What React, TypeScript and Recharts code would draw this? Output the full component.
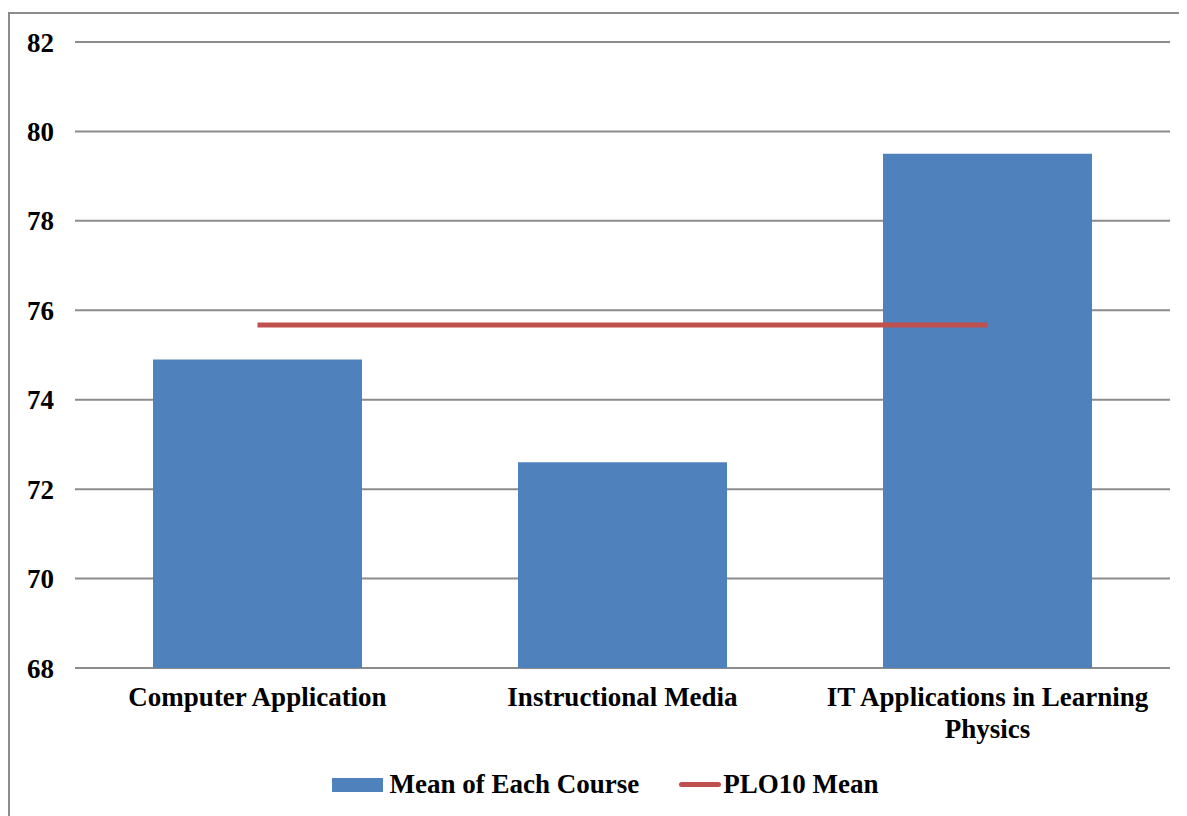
import { ComposedChart, Bar, Line, XAxis, YAxis, CartesianGrid, Legend } from 'recharts';

const COURSES = ['Computer Application', 'Instructional Media', 'IT Applications in Learning Physics'];
const COURSE_MEANS = [74.9, 72.6, 79.5];
const PLO10_MEAN = [75.67, 75.67, 75.67];
const Y_TICKS = [68, 70, 72, 74, 76, 78, 80, 82];

const BLUE = '#4F81BD';
const RED = '#C0504D';
const FONT = '"Liberation Serif", "Times New Roman", serif';
const FS = 27;

const data = COURSES.map((name, i) => ({ name, mean: COURSE_MEANS[i], plo: PLO10_MEAN[i] }));

// greedy word wrap, the category band is too narrow for the long title
function wrap(label: string, maxChars = 28) {
  const lines: string[] = [];
  let cur = '';
  for (const w of label.split(' ')) {
    const next = cur ? cur + ' ' + w : w;
    if (next.length > maxChars && cur) {
      lines.push(cur);
      cur = w;
    } else cur = next;
  }
  if (cur) lines.push(cur);
  return lines;
}

function CourseTick(props: any) {
  const { x, y, payload } = props;
  const lines = wrap(payload.value);
  return (
    <text x={x} y={y} textAnchor="middle" fontFamily={FONT} fontSize={FS} fontWeight="bold" fill="#000">
      {lines.map((l, i) => (
        <tspan key={i} x={x} dy={i === 0 ? 20 : 32}>{l}</tspan>
      ))}
    </text>
  );
}

function LegendBox() {
  const label = { fontFamily: FONT, fontSize: FS, fontWeight: 'bold', color: '#000' } as const;
  return (
    <div style={{ display: 'flex', justifyContent: 'center', alignItems: 'center', paddingLeft: 32, paddingTop: 1 }}>
      <span style={{ display: 'inline-block', width: 51, height: 14, background: BLUE, marginRight: 7 }} />
      <span style={label}>Mean of Each Course</span>
      <span style={{ display: 'inline-block', width: 42, height: 5, borderRadius: 3, background: RED, marginLeft: 40, marginRight: 2 }} />
      <span style={label}>PLO10 Mean</span>
    </div>
  );
}

export default function App() {
  return (
    <div style={{ position: 'relative', width: 1179, height: 808, overflow: 'hidden' }}>
      <div style={{ position: 'absolute', left: 0, top: 4, width: 1300, height: 900, borderTop: '2px solid #8c8c8c', borderLeft: '2px solid #8c8c8c' }} />
      <div style={{ position: 'absolute', left: 0, top: 0 }}>
        <ComposedChart width={1179} height={808} data={data} margin={{ top: 34, right: 17, bottom: 18, left: 0 }}>
          <CartesianGrid vertical={false} stroke="#8c8c8c" strokeWidth={2} />
          <XAxis
            dataKey="name"
            height={100}
            axisLine={false}
            tickLine={false}
            tickSize={0}
            tickMargin={18}
            interval={0}
            tick={<CourseTick />}
          />
          <YAxis
            width={67}
            domain={[68, 82]}
            ticks={Y_TICKS}
            axisLine={false}
            tickLine={false}
            tickSize={6}
            tickMargin={15}
            tick={{ fontFamily: FONT, fontSize: FS, fontWeight: 'bold', fill: '#000' }}
          />
          <Legend verticalAlign="bottom" height={30} content={<LegendBox />} />
          <Bar dataKey="mean" fill={BLUE} barSize={209} isAnimationActive={false} />
          <Line type="linear" dataKey="plo" stroke={RED} strokeWidth={5} dot={false} isAnimationActive={false} />
        </ComposedChart>
      </div>
    </div>
  );
}
